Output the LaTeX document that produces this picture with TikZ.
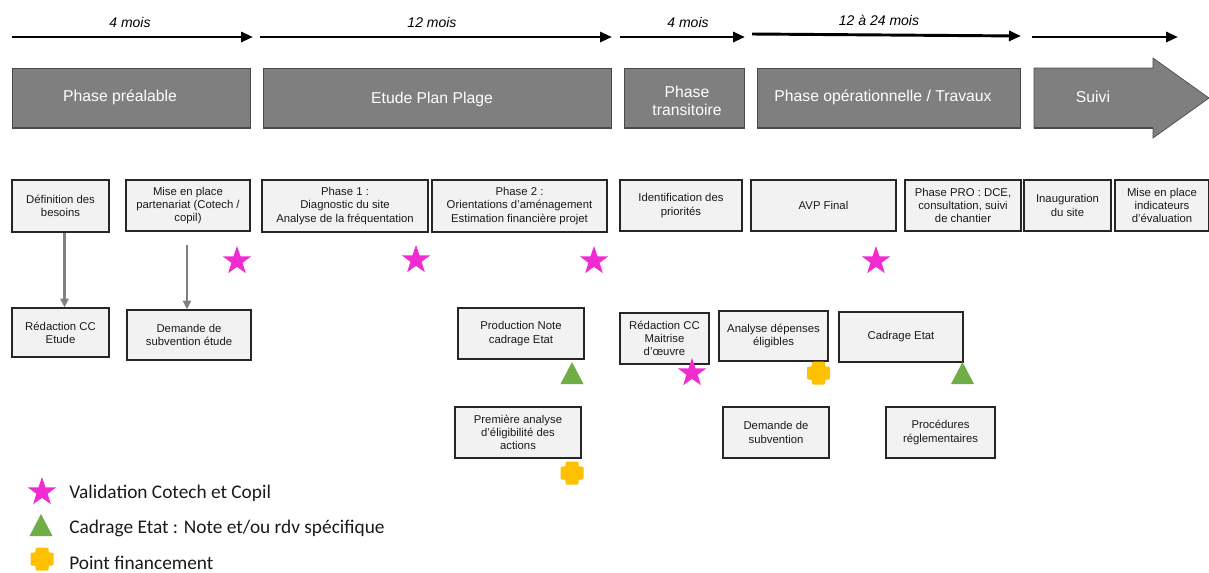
\documentclass[tikz,border=0pt]{standalone}
\usepackage{fontspec}
\setmainfont{Liberation Sans}
\newfontfamily\legfont{Carlito}
\usetikzlibrary{shapes.geometric,arrows.meta}
\definecolor{phasegray}{HTML}{7F7F7F}
\definecolor{phaseedge}{HTML}{4A4A4A}
\definecolor{boxfill}{HTML}{F2F2F2}
\definecolor{boxedge}{HTML}{262626}
\definecolor{starmag}{HTML}{F02BD2}
\definecolor{trigreen}{HTML}{70AD47}
\definecolor{crossyel}{HTML}{FFC000}
\definecolor{conngray}{HTML}{808080}
\definecolor{txtdark}{HTML}{1A1A1A}
\begin{document}
\begin{tikzpicture}[x=0.75pt,y=-0.75pt,
  tl/.style={line width=2.2pt,-{Triangle[length=9pt,width=7.5pt]}},
  tllab/.style={font=\itshape\fontsize{10.5}{12}\selectfont,inner sep=0pt},
  phasebg/.style={fill=phasegray,draw=phaseedge,line width=0.5pt},
  phaseline/.style={draw=phaseedge,line width=1.4pt},
  phasetxt/.style={text=white,font=\fontsize{11.8}{14}\selectfont,align=center,inner sep=0pt},
  act/.style 2 args={draw=boxedge,fill=boxfill,line width=0.9pt,minimum width=#1*0.75pt,minimum height=#2*0.75pt,
     align=center,inner sep=1pt,text=txtdark,font=\fontsize{8.5}{9.9}\selectfont},
  conn/.style={draw=conngray,line width=1.6pt,-{Triangle[length=6.5pt,width=6pt]}},
  legtxt/.style={anchor=west,font=\legfont\fontsize{14.5}{17}\selectfont,text=txtdark,inner sep=0pt},
  starmark/.style={shape=star,star points=5,star point ratio=2.55,fill=starmag,minimum size=22.5pt,inner sep=0pt},
  pics/trimark/.style={code={\fill[trigreen] (-11.5,11) -- (0,-11) -- (11.5,11) -- cycle;}},
  pics/plusmark/.style={code={\fill[crossyel,rounded corners=0.8pt] (-11.5,-6.5)--(-6.5,-6.5)--(-6.5,-11.5)--(6.5,-11.5)--(6.5,-6.5)--(11.5,-6.5)--(11.5,6.5)--(6.5,6.5)--(6.5,11.5)--(-6.5,11.5)--(-6.5,6.5)--(-11.5,6.5)--cycle;}}
]
\useasboundingbox (0,0) rectangle (1209,572);

% timeline
\coordinate (t1s) at (12,37);   \coordinate (t1e) at (253,37);
\coordinate (t2s) at (260,37);  \coordinate (t2e) at (612,37);
\coordinate (t3s) at (620,37);  \coordinate (t3e) at (745,37);
\coordinate (t4s) at (752,34);  \coordinate (t4e) at (1021,36);
\coordinate (t5s) at (1032,37); \coordinate (t5e) at (1178,37);
\draw[tl] (t1s) -- (t1e);
\draw[tl] (t2s) -- (t2e);
\draw[tl] (t3s) -- (t3e);
\draw[tl] (t4s) -- (t4e);
\draw[tl] (t5s) -- (t5e);
\node[tllab] (m1) at (130,22) {4 mois};
\node[tllab] (m2) at (432,22) {12 mois};
\node[tllab] (m3) at (688,22) {4 mois};
\node[tllab] (m4) at (879,20) {12 à 24 mois};

% phases
\path[phasebg] (12,68) rectangle (250,128);
\path[phasebg] (263,68) rectangle (611,128);
\path[phasebg] (624,68) rectangle (744,128);
\path[phasebg] (757,68) rectangle (1020,128);
\path[phasebg] (1034,68) -- (1153,68) -- (1153,58) -- (1209,98) -- (1153,138) -- (1153,128) -- (1034,128) -- cycle;
\draw[phaseline] (12,128) -- (250,128);
\draw[phaseline] (263,128) -- (611,128);
\draw[phaseline] (624,128) -- (744,128);
\draw[phaseline] (757,128) -- (1020,128);
\draw[phaseline] (1034,128) -- (1153,128);
\node[phasetxt] (p1) at (120,97) {Phase préalable};
\node[phasetxt] (p2) at (432,99) {Etude Plan Plage};
\node[phasetxt] (p3) at (687,101) {Phase\\transitoire};
\node[phasetxt] (p4) at (883,97) {Phase opérationnelle / Travaux};
\node[phasetxt] (p5) at (1093,97) {Suivi};

% row 1
\node[act={97}{52}] (def) at (60.5,206) {Définition des\\besoins};
\node[act={124}{51}] (mise) at (188,205.5) {Mise en place\\partenariat (Cotech /\\copil)};
\node[act={166}{52}] (ph1) at (345,206) {Phase 1 :\\Diagnostic du site\\Analyse de la fréquentation};
\node[act={175}{52}] (ph2) at (519.5,206) {Phase 2 :\\Orientations d’aménagement\\Estimation financière projet};
\node[act={122}{51}] (ident) at (681,205.5) {Identification des\\priorités};
\node[act={145}{51}] (avp) at (823.5,205.5) {AVP Final};
\node[act={116}{51}] (pro) at (963,205.5) {Phase PRO : DCE,\\consultation, suivi\\de chantier};
\node[act={87}{51}] (inaug) at (1067.5,205.5) {Inauguration\\du site};
\node[act={94}{51}] (indic) at (1162,205.5) {Mise en place\\indicateurs\\d’évaluation};

% row 2
\node[act={97}{49}] (redcc) at (60.5,332.5) {Rédaction CC\\Etude};
\node[act={124}{50}] (demet) at (189,335) {Demande de\\subvention étude};
\node[act={126}{51}] (prodnote) at (521,333.5) {Production Note\\cadrage Etat};
\node[act={126}{51}] (prem) at (518,432.5) {Première analyse\\d’éligibilité des\\actions};
\node[act={89}{51}] (redmoe) at (664.5,338.5) {Rédaction CC\\Maitrise\\d’œuvre};
\node[act={109}{50}] (anadep) at (773.5,336) {Analyse dépenses\\éligibles};
\node[act={124}{50}] (cadr) at (901,337) {Cadrage Etat};
\node[act={106}{51}] (demsub) at (776,432.5) {Demande de\\subvention};
\node[act={109}{51}] (proc) at (940.5,432.5) {Procédures\\réglementaires};

% connectors
\draw[conn] ([xshift=3pt]def.south) -- ([xshift=3pt]redcc.north);
\coordinate (a2s) at (187,245);
\draw[conn] (a2s) -- (a2s |- demet.north);

% markers
\node[starmark] (s1) at (237,261) {};
\node[starmark] (s2) at (416,260) {};
\node[starmark] (s3) at (594,261) {};
\node[starmark] (s4) at (876,261) {};
\node[starmark] (s5) at (692,373) {};
\pic at (572,373) {trimark};
\pic at (962.5,373) {trimark};
\pic at (818.5,373) {plusmark};
\pic at (572,473) {plusmark};

% legend
\node[starmark] (ls) at (42,492) {};
\pic at (41,525) {trimark};
\pic at (42,559) {plusmark};
\node[legtxt] (lt1) at (69,493) {Validation Cotech et Copil};
\node[legtxt] (lt2) at (69,528) {Cadrage Etat : Note et/ou rdv spécifique};
\node[legtxt] (lt3) at (69,563) {Point financement};
\end{tikzpicture}
\end{document}
